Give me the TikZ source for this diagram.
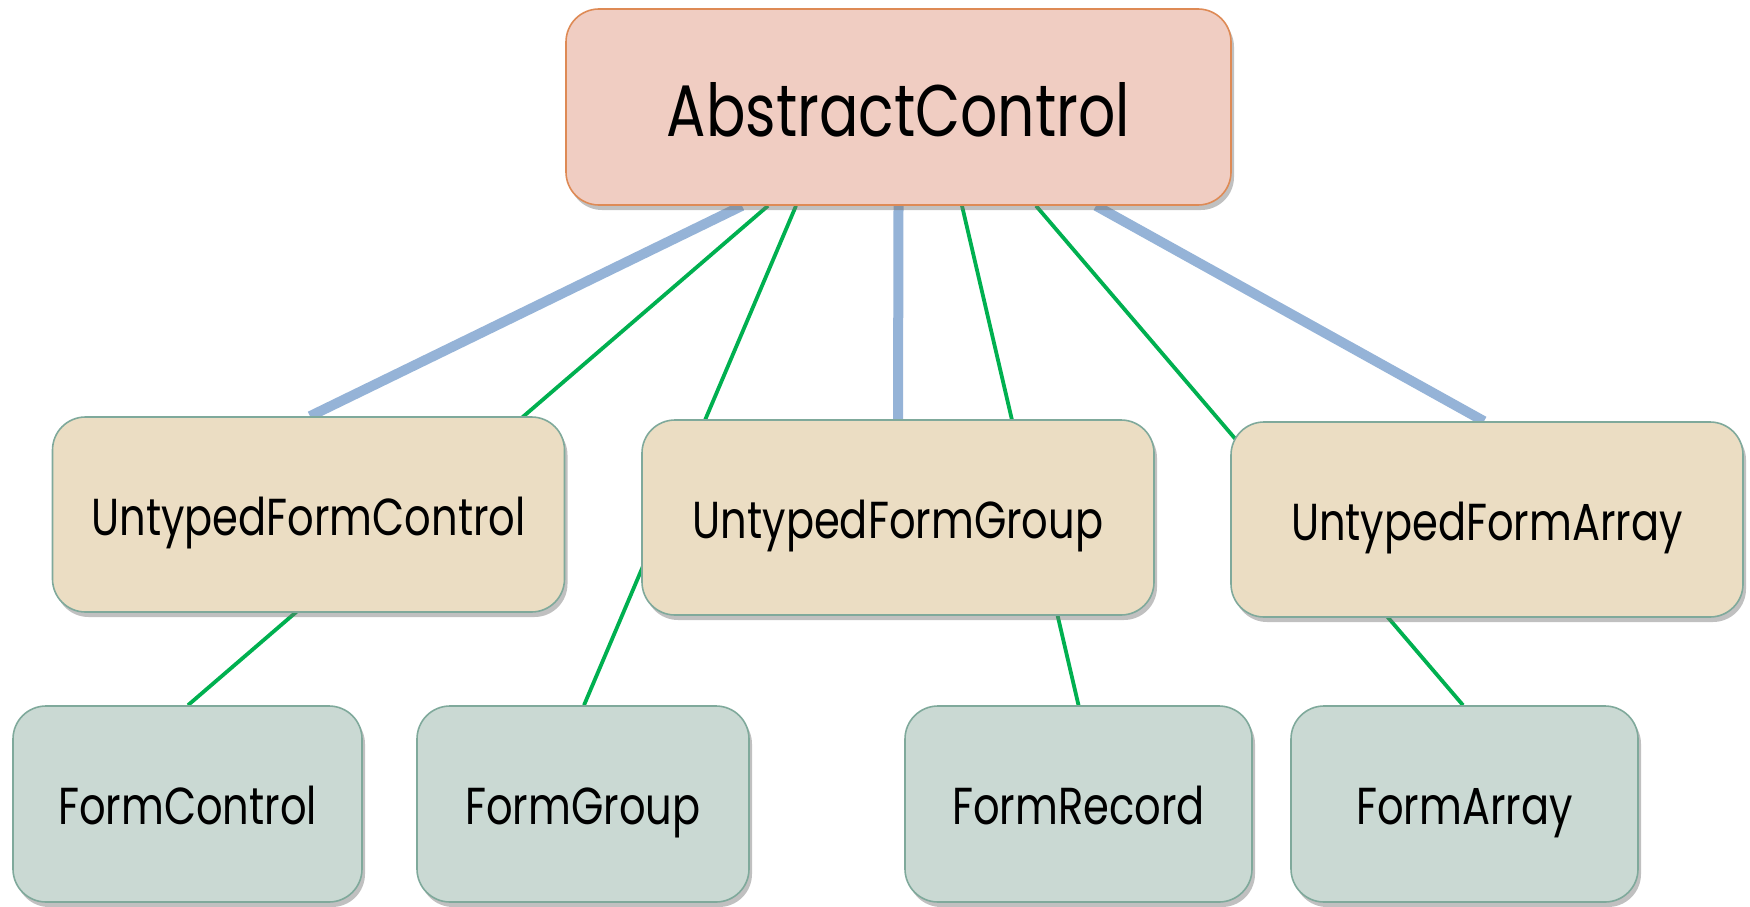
\documentclass[tikz,border=0pt]{standalone}
\usepackage{fontspec}
\newfontfamily\tw[FakeStretch=0.8]{Poppins}
\usetikzlibrary{shadows,backgrounds}
\definecolor{acfill}{HTML}{F0CDC2}
\definecolor{acdraw}{HTML}{DE8A55}
\definecolor{midfill}{HTML}{EBDDC3}
\definecolor{lowfill}{HTML}{CAD9D3}
\definecolor{boxdraw}{HTML}{7FA99B}
\definecolor{blueline}{HTML}{95B3D7}
\definecolor{greenline}{HTML}{00B050}
\begin{document}
\begin{tikzpicture}[x=1pt,y=-1pt,
  box/.style={rounded corners=33pt, inner sep=0pt, line width=1.6pt,
    drop shadow={shadow xshift=3pt, shadow yshift=-5pt, fill=black!55, opacity=0.45}},
  acbox/.style={box, fill=acfill, draw=acdraw, minimum width=665pt, minimum height=196pt,
    font=\tw\fontsize{73}{73}\selectfont, text height=58pt, text depth=0pt},
  midbox/.style={box, fill=midfill, draw=boxdraw, minimum width=512pt, minimum height=195pt,
    font=\tw\fontsize{52}{52}\selectfont, text height=42pt, text depth=0pt},
  lowbox/.style={box, fill=lowfill, draw=boxdraw, minimum height=196pt,
    font=\tw\fontsize{52}{52}\selectfont, text height=40pt, text depth=0pt},
  blueconn/.style={draw=blueline, line width=10pt},
  greenconn/.style={draw=greenline, line width=3.8pt}]
\useasboundingbox (0,0) rectangle (1750,907);
\node[acbox] (ac) at (898.5,107) {AbstractControl};
\node[midbox] (ufc) at (308.5,514.5) {UntypedFormControl};
\node[midbox] (ufg) at (898,517.5) {UntypedFormGroup};
\node[midbox] (ufa) at (1487,519.5) {UntypedFormArray};
\node[lowbox, minimum width=349pt] (fc) at (187.5,804) {FormControl};
\node[lowbox, minimum width=332pt] (fg) at (583,804) {FormGroup};
\node[lowbox, minimum width=347pt] (fr) at (1078.5,804) {FormRecord};
\node[lowbox, minimum width=347pt] (fa) at (1464.5,804) {FormArray};
\begin{scope}[on background layer]
  \draw[greenconn] ([xshift=-130.5pt]ac.south) -- ([xshift=0.5pt]fc.north);
  \draw[greenconn] ([xshift=-102.5pt]ac.south) -- ([xshift=1pt]fg.north);
  \draw[greenconn] ([xshift=63.5pt]ac.south) -- (fr.north);
  \draw[greenconn] ([xshift=137.5pt]ac.south) -- ([xshift=-1.5pt]fa.north);
  \draw[blueconn] ([xshift=-156.5pt]ac.south) -- ([xshift=1.5pt]ufc.north);
  \draw[blueconn] (ac.south) -- (ufg.north);
  \draw[blueconn] ([xshift=197.5pt]ac.south) -- ([xshift=-3pt]ufa.north);
\end{scope}
\end{tikzpicture}
\end{document}
